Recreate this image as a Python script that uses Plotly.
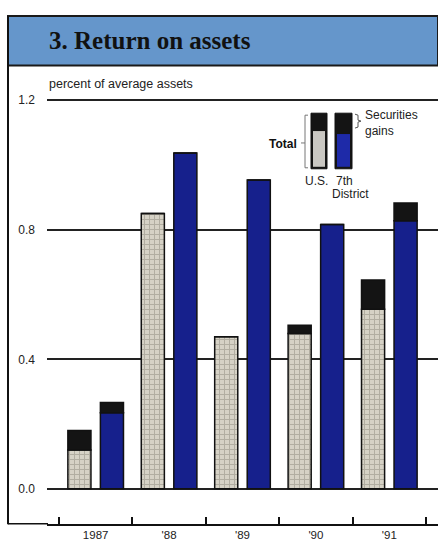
import plotly.graph_objects as go

W, H = 438, 542

years = ["1987", "'88", "'89", "'90", "'91"]
us_base = [0.12, 0.85, 0.47, 0.48, 0.555]
us_gain = [0.06, 0.0, 0.0, 0.025, 0.09]
d7_base = [0.235, 1.037, 0.954, 0.816, 0.828]
d7_gain = [0.032, 0.0, 0.0, 0.0, 0.055]
y_ticks = [0.0, 0.4, 0.8, 1.2]
y_labels = ["0.0", "0.4", "0.8", "1.2"]

GRAY_BG = "#d6d2c6"
GRAY_FG = "#8c887c"
NAVY = "#16208c"
DARK = "#141414"


def px(x):
    return x / W


def py(y):
    return 1 - y / H


fig = go.Figure()
line = dict(color="#111", width=1.5)
fig.add_trace(go.Bar(x=years, y=us_base, offsetgroup="us", marker=dict(
    color=GRAY_BG, line=line,
    pattern=dict(shape="+", fgcolor=GRAY_FG, bgcolor=GRAY_BG, size=5, solidity=0.35))))
fig.add_trace(go.Bar(x=years, y=us_gain, base=us_base, offsetgroup="us",
                     marker=dict(color=DARK, line=line)))
fig.add_trace(go.Bar(x=years, y=d7_base, offsetgroup="d7",
                     marker=dict(color=NAVY, line=line)))
fig.add_trace(go.Bar(x=years, y=d7_gain, base=d7_base, offsetgroup="d7",
                     marker=dict(color=DARK, line=line)))

shapes = []
# title band
shapes.append(dict(type="rect", xref="paper", yref="paper", x0=px(8), x1=1.0,
                   y0=py(62), y1=py(12), fillcolor="#6596cb",
                   line=dict(color="#1a1a1a", width=2), layer="below"))
# left frame line and bottom frame line
shapes.append(dict(type="line", xref="paper", yref="paper", x0=px(8), x1=px(8),
                   y0=py(12), y1=py(524), line=dict(color="#111", width=2)))
shapes.append(dict(type="line", xref="paper", yref="paper", x0=px(8), x1=px(48),
                   y0=py(523.5), y1=py(523.5), line=dict(color="#111", width=1.5)))
# legend bars
shapes.append(dict(type="rect", xref="paper", yref="paper", x0=px(311), x1=px(327),
                   y0=py(166), y1=py(110), fillcolor=DARK, line=dict(color="#111", width=1)))
shapes.append(dict(type="rect", xref="paper", yref="paper", x0=px(313), x1=px(325),
                   y0=py(164), y1=py(128), fillcolor="#c9c7c2", line=dict(width=0)))
shapes.append(dict(type="rect", xref="paper", yref="paper", x0=px(335), x1=px(352),
                   y0=py(166), y1=py(110), fillcolor=DARK, line=dict(color="#111", width=1)))
shapes.append(dict(type="rect", xref="paper", yref="paper", x0=px(337), x1=px(350),
                   y0=py(164), y1=py(131), fillcolor="#1e2aa8", line=dict(width=0)))
# "Total" bracket
br = dict(color="#777", width=1)
shapes.append(dict(type="line", xref="paper", yref="paper", x0=px(305), x1=px(305),
                   y0=py(112), y1=py(165), line=br))
shapes.append(dict(type="line", xref="paper", yref="paper", x0=px(305), x1=px(308),
                   y0=py(112), y1=py(112), line=br))
shapes.append(dict(type="line", xref="paper", yref="paper", x0=px(305), x1=px(308),
                   y0=py(165), y1=py(165), line=br))
shapes.append(dict(type="line", xref="paper", yref="paper", x0=px(301), x1=px(305),
                   y0=py(140), y1=py(140), line=br))
# securities gains brace
shapes.append(dict(type="path", xref="paper", yref="paper",
                   path=f"M {px(355)} {py(111)} L {px(358)} {py(112)} L {px(358)} {py(117)} "
                        f"L {px(361)} {py(118)} L {px(358)} {py(119)} L {px(358)} {py(124)} L {px(355)} {py(125)}",
                   line=dict(color="#555", width=1)))

ann = []
ann.append(dict(text="<b>3. Return on assets</b>", xref="paper", yref="paper",
                x=px(47), y=py(37), xanchor="left", yanchor="middle", showarrow=False,
                font=dict(family="Liberation Serif", size=25, color="#111")))
ann.append(dict(text="percent of average assets", xref="paper", yref="paper",
                x=px(47), y=py(81), xanchor="left", yanchor="middle", showarrow=False,
                font=dict(family="Liberation Sans", size=12.5, color="#222")))
ann.append(dict(text="<b>Total</b>", xref="paper", yref="paper",
                x=px(299), y=py(141), xanchor="right", yanchor="middle", showarrow=False,
                font=dict(family="Liberation Sans", size=12, color="#111")))
ann.append(dict(text="Securities<br>gains", xref="paper", yref="paper", align="left",
                x=px(363), y=py(120), xanchor="left", yanchor="middle", showarrow=False,
                font=dict(family="Liberation Sans", size=12, color="#222")))
ann.append(dict(text="U.S.", xref="paper", yref="paper",
                x=px(316), y=py(178), xanchor="center", yanchor="middle", showarrow=False,
                font=dict(family="Liberation Sans", size=12, color="#222")))
ann.append(dict(text="7th", xref="paper", yref="paper",
                x=px(344), y=py(178), xanchor="center", yanchor="middle", showarrow=False,
                font=dict(family="Liberation Sans", size=12, color="#222")))
ann.append(dict(text="District", xref="paper", yref="paper",
                x=px(350), y=py(191), xanchor="center", yanchor="middle", showarrow=False,
                font=dict(family="Liberation Sans", size=12, color="#222")))

fig.update_layout(
    width=W, height=H, margin=dict(l=0, r=0, t=0, b=0),
    paper_bgcolor="white", plot_bgcolor="white",
    showlegend=False, barmode="group", bargap=0.114, bargroupgap=0.29,
    shapes=shapes, annotations=ann,
    xaxis=dict(type="category", domain=[px(47), 1.0], range=[-0.663, 4.663],
               tickson="boundaries", ticks="inside", ticklen=7, tickwidth=1.5,
               tickcolor="#111", showline=True, linecolor="#111", linewidth=1.5,
               showgrid=False, tickfont=dict(family="Liberation Sans", size=11.5, color="#222")),
    yaxis=dict(domain=[py(523.5), py(93.7)], range=[-0.1074, 1.21],
               tickvals=y_ticks, ticktext=y_labels, showgrid=True, gridcolor="#222",
               gridwidth=1.5, zeroline=False, showline=False, ticks="",
               ticklabelstandoff=11,
               tickfont=dict(family="Liberation Sans", size=12, color="#222")),
)

fig.write_html("out.html", config={"displayModeBar": False},
               post_script="document.body.style.margin='0';document.body.style.overflow='hidden';")
